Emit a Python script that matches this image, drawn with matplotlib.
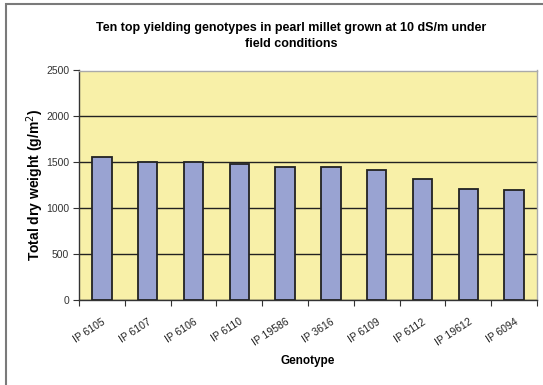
import matplotlib.pyplot as plt
from matplotlib.patches import Rectangle

genotypes = ['IP 6105', 'IP 6107', 'IP 6106', 'IP 6110', 'IP 19586',
             'IP 3616', 'IP 6109', 'IP 6112', 'IP 19612', 'IP 6094']
dry_weight = [1558, 1503, 1500, 1482, 1450, 1446, 1417, 1320, 1214, 1196]
y_ticks = [0, 500, 1000, 1500, 2000, 2500]


def draw_graph() -> None:
    plt.rcParams['font.family'] = ['Liberation Sans', 'DejaVu Sans']
    fig = plt.figure(figsize=(5.43, 3.85), dpi=100)
    ax = fig.add_axes([79 / 543, 85 / 385, 458 / 543, 229.5 / 385])

    ax.set_facecolor('#f8f0a8')
    x = range(len(genotypes))
    ax.bar(x, dry_weight, width=0.42, color='#99a3d2',
           edgecolor='#222222', linewidth=1.3, zorder=3)

    ax.set_xlim(-0.5, len(genotypes) - 0.5)
    ax.set_ylim(0, 2500)
    ax.set_yticks(y_ticks)
    ax.set_yticklabels([str(v) for v in y_ticks], fontsize=7.5, color='#333333')
    ax.yaxis.grid(True, color='#222222', linewidth=1.0, zorder=1)
    ax.tick_params(axis='y', length=4, width=0.8, color='#333333', pad=3)

    # kategorie popsané na středech, čárky na hranicích
    ax.set_xticks(list(x))
    ax.set_xticklabels(genotypes, rotation=33, ha='right',
                       rotation_mode='anchor', fontsize=7.5, color='#222222')
    ax.tick_params(axis='x', length=0, pad=12)
    ax.set_xticks([i - 0.5 for i in range(len(genotypes) + 1)], minor=True)
    ax.tick_params(axis='x', which='minor', length=4, width=0.8,
                   color='#333333', direction='out')

    for side in ['top', 'right']:
        ax.spines[side].set_color('#aaaaaa')
        ax.spines[side].set_linewidth(1.0)
    for side in ['left', 'bottom']:
        ax.spines[side].set_color('#333333')
        ax.spines[side].set_linewidth(1.0)

    ax.set_ylabel('Total dry weight (g/m$^2$)', fontsize=10, fontweight='bold')
    ax.yaxis.set_label_coords(-0.071, 0.5)
    ax.set_xlabel('Genotype', fontsize=8.5, fontweight='bold', labelpad=5)

    fig.text(291 / 543, 1 - 36 / 385,
             'Ten top yielding genotypes in pearl millet grown at 10 dS/m under\nfield conditions',
             ha='center', va='center', fontsize=9, fontweight='bold',
             linespacing=1.4)

    fig.patches.append(Rectangle((6 / 543, -0.01), 1.0, 1 - 4 / 385 + 0.01,
                                 transform=fig.transFigure, fill=False,
                                 edgecolor='#7a7a7a', linewidth=1.5))

    fig.savefig('out.png', dpi=100)


def main() -> None:
    draw_graph()


if __name__ == '__main__':
    main()
